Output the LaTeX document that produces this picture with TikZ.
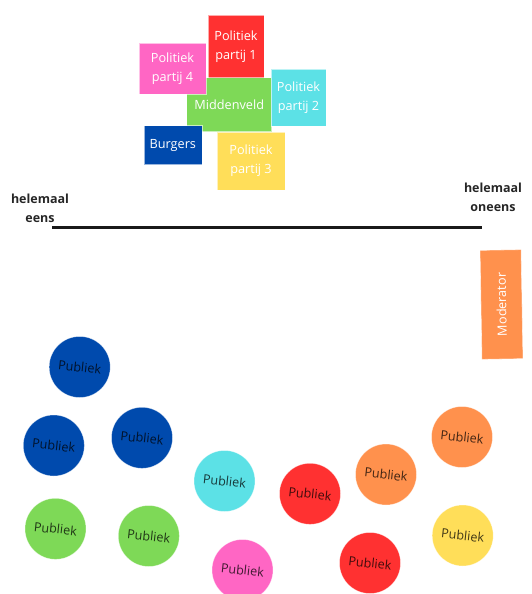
\documentclass[tikz,border=0pt]{standalone}
\usepackage{fontspec}
\setmainfont{Open Sans}
\definecolor{cred}{HTML}{FF3131}
\definecolor{cpink}{HTML}{FF66C4}
\definecolor{ccyan}{HTML}{5CE1E6}
\definecolor{cgreen}{HTML}{7ED957}
\definecolor{cblue}{HTML}{004AAD}
\definecolor{cyellow}{HTML}{FFDE59}
\definecolor{corange}{HTML}{FF914D}
\tikzset{
  box/.style={rectangle, inner sep=0pt, draw=white, draw opacity=0.6, line width=0.6pt,
    text=white, align=center, font=\fontsize{12.7}{19}\selectfont},
  pub/.style={circle, inner sep=0pt, minimum size=61pt, draw=white, draw opacity=0.5, line width=0.5pt,
    text=black, text opacity=0.75, font=\fontsize{12.6}{15}\selectfont},
  endlabel/.style={align=center, font=\fontsize{12.5}{19}\selectfont\bfseries, text=black!85},
  scale line/.style={line width=2.7pt, black!90}
}
\begin{document}
\begin{tikzpicture}[x=1pt,y=-1pt]
\path[use as bounding box] (0,0) rectangle (532,594);
% top cluster
\node[box, fill=cred, minimum width=56pt, minimum height=63pt] (p1) at (236,46.5) {Politiek\\partij 1};
\node[box, fill=cgreen, minimum width=85pt, minimum height=54pt] (mid) at (229.2,104.5) {Middenveld};
\node[box, fill=cpink, minimum width=67pt, minimum height=51pt] (p4) at (172.5,68.5) {Politiek\\partij 4};
\node[box, fill=ccyan, minimum width=55pt, minimum height=57pt] (p2) at (298.5,97.5) {Politiek\\partij 2};
\node[box, fill=cblue, minimum width=58pt, minimum height=39pt] (burg) at (172.8,145) {Burgers};
\node[box, fill=cyellow, minimum width=68pt, minimum height=58pt] (p3) at (251,161) {Politiek\\partij 3};
% scale
\node[endlabel] (left) at (40,208.5) {helemaal\\eens};
\node[endlabel] (right) at (493,197.5) {helemaal\\oneens};
\coordinate (ls) at (52,227.3);
\coordinate (le) at (482,227.3);
\draw[scale line] (ls) -- (le);
% moderator
\node[box, fill=corange, rotate=91, minimum width=109pt, minimum height=41pt] (mod) at (501.5,304.5) {Moderator};
% audience
\node[pub, fill=cblue] (a1) at (79.7,367) {\rotatebox{-6}{Publiek}};
\node[pub, fill=cblue] (a2) at (53.8,445.5) {\rotatebox{-6}{Publiek}};
\node[pub, fill=cblue] (a3) at (142,437.8) {\rotatebox{-6}{Publiek}};
\node[pub, fill=ccyan] (a4) at (224.5,481) {\rotatebox{-6}{Publiek}};
\node[pub, fill=cgreen] (a5) at (55.5,528.8) {\rotatebox{-6}{Publiek}};
\node[pub, fill=cgreen] (a6) at (148.8,536) {\rotatebox{-6}{Publiek}};
\node[pub, fill=cpink] (a7) at (242.5,570) {\rotatebox{-6}{Publiek}};
\node[pub, fill=cred] (a8) at (310,493.8) {\rotatebox{-6}{Publiek}};
\node[pub, fill=cred] (a9) at (370,563) {\rotatebox{-6}{Publiek}};
\node[pub, fill=corange] (a10) at (386,474.5) {\rotatebox{-6}{Publiek}};
\node[pub, fill=corange] (a11) at (462,437) {\rotatebox{-6}{Publiek}};
\node[pub, fill=cyellow] (a12) at (462.7,535.5) {\rotatebox{-6}{Publiek}};
\end{tikzpicture}
\end{document}
